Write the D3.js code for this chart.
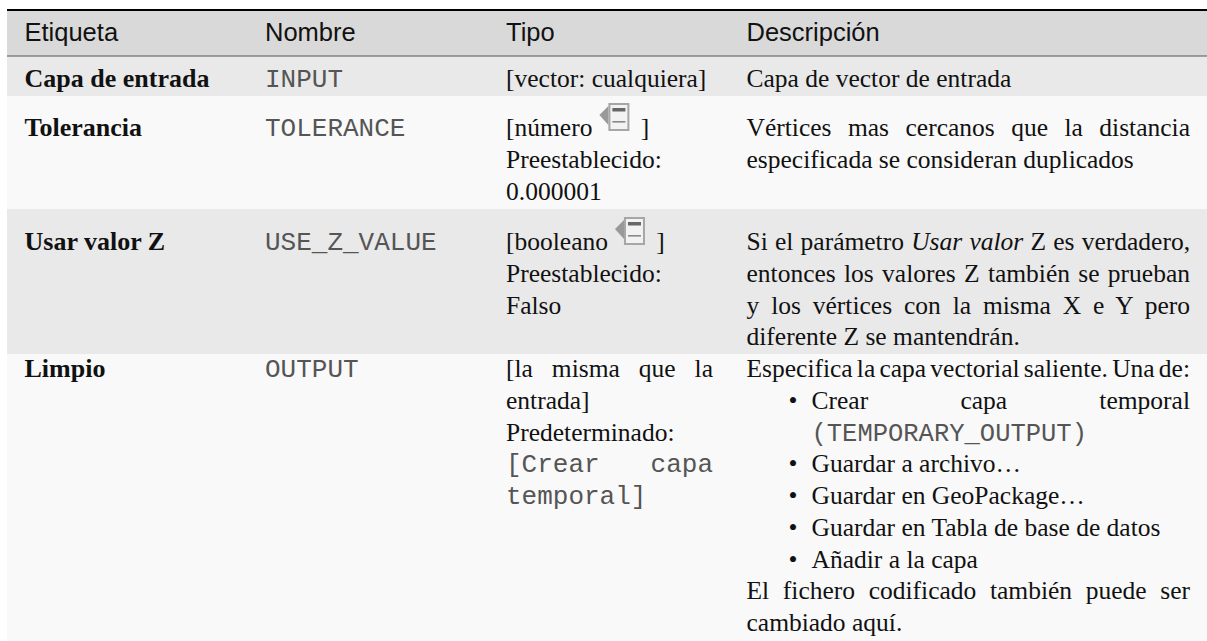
<!DOCTYPE html>
<html>
<head>
<meta charset="utf-8">
<script src="https://cdn.jsdelivr.net/npm/d3@7"></script>
<style>
body { margin: 0; background: #fff; }
svg { display: block; }
</style>
</head>
<body>
<svg id="chart" width="1207" height="641"></svg>
<script>
// table content, one entry per printed line
// prefixes: "*" justified, "m" mono, "•" bullet, ">" bullet text carried over, "@" marks the icon
const columns = ["Etiqueta", "Nombre", "Tipo", "Descripción"]
const etiquetas = ["Capa de entrada", "Tolerancia", "Usar valor Z", "Limpio"]
const nombres = ["INPUT", "TOLERANCE", "USE_Z_VALUE", "OUTPUT"]
const tipos = [
    ["[vector: cualquiera]"],
    ["[número @]", "Preestablecido:", "0.000001"],
    ["[booleano @]", "Preestablecido:", "Falso"],
    ["*[la misma que la", "entrada]", "Predeterminado:", "*m[Crear capa", "mtemporal]"]
]
const descripciones = [
    ["Capa de vector de entrada"],
    ["*Vértices mas cercanos que la distancia", "especificada se consideran duplicados"],
    ["*Si el parámetro _Usar valor_ Z es verdadero,", "*entonces los valores Z también se prueban", "*y los vértices con la misma X e Y pero", "diferente Z se mantendrán."],
    ["*Especifica la capa vectorial saliente. Una de:",
     "•*Crear capa temporal", ">m(TEMPORARY_OUTPUT)", "•Guardar a archivo…", "•Guardar en GeoPackage…",
     "•Guardar en Tabla de base de datos", "•Añadir a la capa",
     "*El fichero codificado también puede ser", "cambiado aquí."]
]

const svg = d3.select("#chart")

const serif = "'Liberation Serif', serif"
const sans = "'Liberation Sans', sans-serif"
const mono = "'Liberation Mono', monospace"
const fontSize = 25.5, monoSize = 26

const tableLeft = 7, tableRight = 1207
const headTop = 10, headBottom = 56
// layout: top of each band, and the first baseline inside it
const rowTops = [56, 96, 209, 354, 641]
const firstBase = [87, 136, 250, 377]

const yLine = d3.scaleLinear().domain([0, 8]).range([0, 254])
const x = d3.scaleOrdinal().domain(columns).range([24.5, 265, 506, 746.5])
const colRight = d3.scaleOrdinal().domain(columns).range([0, 0, 713, 1190])

// backgrounds
svg.append("rect").attr("x", tableLeft).attr("y", headTop).attr("width", tableRight - tableLeft)
    .attr("height", headBottom - headTop).attr("fill", "#d9d9d9")
svg.selectAll("rect.row").data(etiquetas).join("rect").attr("class", "row")
    .attr("x", tableLeft).attr("width", tableRight - tableLeft)
    .attr("y", (d, i) => rowTops[i])
    .attr("height", (d, i) => rowTops[i + 1] - rowTops[i])
    .attr("fill", (d, i) => i % 2 == 0 ? "#e9e9e9" : "#f9f9f9")
svg.append("line").attr("x1", tableLeft).attr("x2", tableRight).attr("y1", headTop).attr("y2", headTop)
    .attr("stroke", "#000").attr("stroke-width", 2)
svg.append("line").attr("x1", tableLeft).attr("x2", tableRight).attr("y1", headBottom).attr("y2", headBottom)
    .attr("stroke", "#555").attr("stroke-width", 1)

// header
svg.selectAll("text.head").data(columns).join("text").attr("class", "head")
    .attr("x", d => x(d)).attr("y", 41)
    .attr("font-family", sans).attr("font-size", fontSize).attr("fill", "#111")
    .text(d => d)

// little data-defined-parameter icon
function icon(cx, cy) {
    const s = svg.append("g").attr("transform", `translate(${cx},${cy})`)
    s.append("path").attr("d", "M-15 -2 L-6 -11 L-6 8 Z").attr("fill", "#999")
    s.append("rect").attr("x", -5).attr("y", -13).attr("width", 19).attr("height", 26)
        .attr("fill", "#f2f2f2").attr("stroke", "#a6a6a6").attr("stroke-width", 2)
    s.append("rect").attr("x", -2).attr("y", -9).attr("width", 13).attr("height", 3.5).attr("fill", "#666")
    s.append("rect").attr("x", -2).attr("y", 4).attr("width", 13).attr("height", 1.6).attr("fill", "#888")
}

// one line of text, the word gaps stretched or squeezed when it has to fill the column
function drawLine(raw, left, right, yy) {
    let s = raw, justify = false, isMono = false, indent = 0
    if (s[0] == "•") {
        indent = 65
        s = s.slice(1)
        svg.append("text").attr("x", left + 42).attr("y", yy).attr("font-family", serif)
            .attr("font-size", fontSize).attr("fill", "#111").text("•")
    }
    if (s[0] == ">") { indent = 65; s = s.slice(1) }
    if (s[0] == "*") { justify = true; s = s.slice(1) }
    if (s[0] == "m" && "[(t".includes(s[1])) { isMono = true; s = s.slice(1) }

    const t = svg.append("text").attr("x", left + indent).attr("y", yy)
        .attr("font-family", isMono ? mono : serif)
        .attr("font-size", isMono ? (indent ? 25.5 : monoSize) : fontSize)
        .attr("fill", isMono ? "#555" : "#111")

    if (s.includes("@")) {
        const [before, after] = s.split("@")
        t.text(before)
        const w = t.node().getComputedTextLength()
        icon(left + w + 22, yy - 19)
        t.append("tspan").attr("dx", 42).text(after)
        return
    }
    if (isMono) t.text(s)
    else s.split("_").forEach((part, k) => {
        t.append("tspan").attr("font-style", k % 2 == 1 ? "italic" : null).text(part)
    })
    if (justify) {
        const gaps = s.split(" ").length - 1
        const w = t.node().getComputedTextLength()
        t.attr("word-spacing", (right - left - indent - w) / gaps)
    }
}

etiquetas.forEach((d, i) => {
    svg.append("text").attr("x", x(columns[0])).attr("y", firstBase[i])
        .attr("font-family", serif).attr("font-weight", "bold").attr("font-size", 26).attr("fill", "#111").text(d)
    svg.append("text").attr("x", x(columns[1])).attr("y", firstBase[i])
        .attr("font-family", mono).attr("font-size", monoSize).attr("fill", "#555").text(nombres[i])
    tipos[i].forEach((l, n) => drawLine(l, x(columns[2]), colRight(columns[2]), firstBase[i] + yLine(n)))
    descripciones[i].forEach((l, n) => drawLine(l, x(columns[3]), colRight(columns[3]), firstBase[i] + yLine(n)))
})
</script>
</body>
</html>
